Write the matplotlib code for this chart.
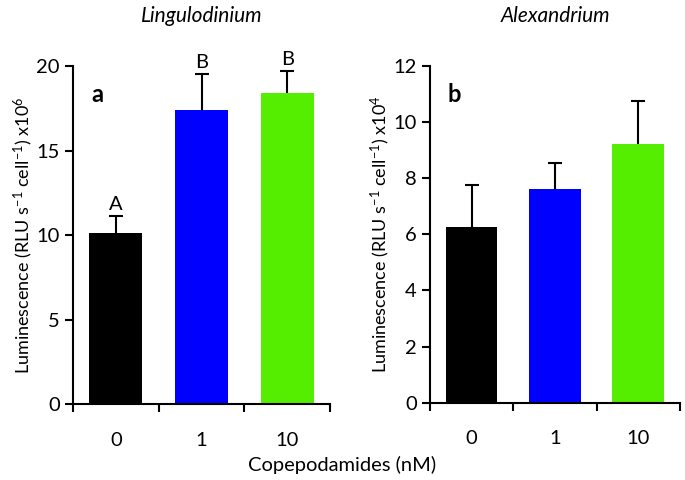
import matplotlib
matplotlib.use('Agg')
import matplotlib.pyplot as plt
import numpy as np

plt.rcParams['font.family'] = ['Lato', 'DejaVu Sans']
plt.rcParams['mathtext.fontset'] = 'custom'
plt.rcParams['mathtext.rm'] = 'Lato'
plt.rcParams['mathtext.it'] = 'Lato:italic'
plt.rcParams['mathtext.bf'] = 'Lato:bold'

# data
conc = ['0', '1', '10']
colors = ['#000000', '#0000ff', '#55ee00']
ling_vals = [10.1, 17.4, 18.4]
ling_err = [1.0, 2.1, 1.3]
ling_letters = ['A', 'B', 'B']
alex_vals = [6.27, 7.6, 9.22]
alex_err = [1.49, 0.95, 1.54]

fig = plt.figure(figsize=(6.85, 4.8), dpi=100)
ax1 = fig.add_axes([0.1066, 0.1583, 0.3752, 0.7042])
ax2 = fig.add_axes([0.6277, 0.1610, 0.3650, 0.7015])


def draw(ax, vals, errs, ymax, ystep, title, panel, label):
    x = np.arange(len(vals))
    ax.bar(x, vals, width=0.62, color=colors, zorder=2)
    eb = ax.errorbar(x, vals, yerr=[np.zeros(len(errs)), errs], fmt='none',
                     ecolor='black', elinewidth=1.5, capsize=5, capthick=1.5, zorder=3)
    eb[1][0].set_visible(False)  # hide lower caps
    ax.set_xlim(-0.5, len(vals) - 0.5)
    ax.set_ylim(0, ymax)
    ax.set_yticks(np.arange(0, ymax + 0.1, ystep))
    ax.set_xticks(x)
    ax.set_xticklabels(conc)
    ax.set_xticks(np.arange(-0.5, len(vals)), minor=True)
    ax.tick_params(axis='x', which='major', length=0, labelsize=14.5, pad=20)
    ax.tick_params(axis='x', which='minor', length=6, width=1.5, direction='out')
    ax.tick_params(axis='y', length=6, width=1.5, direction='out', labelsize=14.5)
    for s in ['top', 'right']:
        ax.spines[s].set_visible(False)
    for s in ['left', 'bottom']:
        ax.spines[s].set_linewidth(1.5)
    ax.set_title(title, fontstyle='italic', fontsize=15, pad=32)
    ax.text(0.07, 0.95, panel, transform=ax.transAxes, fontsize=17,
            fontweight='bold', va='top', ha='left')
    ax.set_ylabel(label, fontsize=13, labelpad=1)


draw(ax1, ling_vals, ling_err, 20, 5, 'Lingulodinium', 'a',
     'Luminescence (RLU s$^{-1}$ cell$^{-1}$) x10$^{6}$')
draw(ax2, alex_vals, alex_err, 12, 2, 'Alexandrium', 'b',
     'Luminescence (RLU s$^{-1}$ cell$^{-1}$) x10$^{4}$')

for i, (v, e, t) in enumerate(zip(ling_vals, ling_err, ling_letters)):
    ax1.text(i, v + e + 0.2, t, ha='center', va='bottom', fontsize=14.5)

fig.text(0.5, 0.012, 'Copepodamides (nM)', ha='center', va='bottom', fontsize=14.5)

fig.savefig('out.png', dpi=100)
